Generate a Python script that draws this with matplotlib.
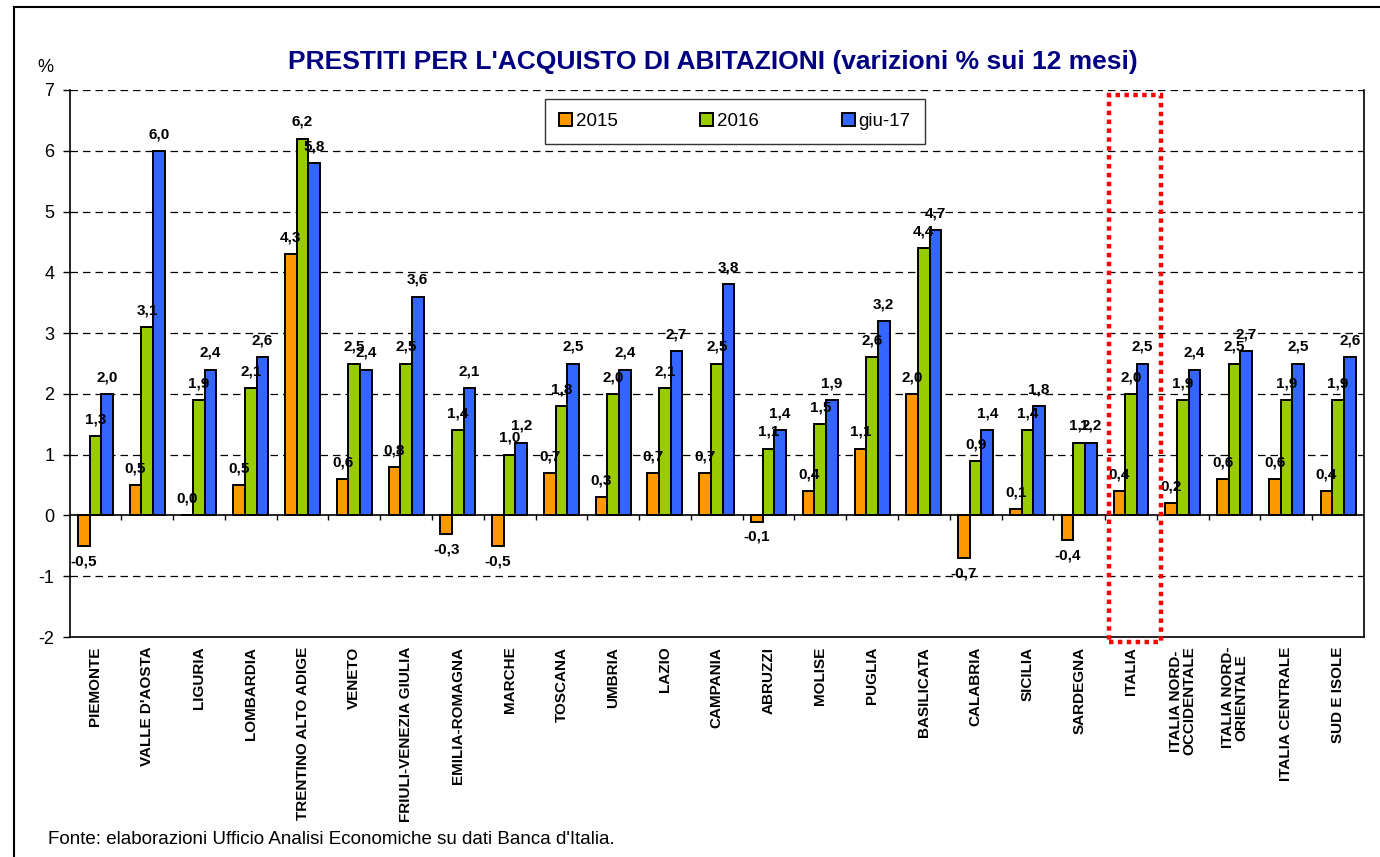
import matplotlib
matplotlib.use("Agg")
import matplotlib.pyplot as plt
import numpy as np
from matplotlib.patches import Rectangle
from matplotlib.lines import Line2D

plt.rcParams['font.family'] = ['Liberation Sans', 'DejaVu Sans']

categories = ["PIEMONTE", "VALLE D'AOSTA", "LIGURIA", "LOMBARDIA", "TRENTINO ALTO ADIGE",
              "VENETO", "FRIULI-VENEZIA GIULIA", "EMILIA-ROMAGNA", "MARCHE", "TOSCANA",
              "UMBRIA", "LAZIO", "CAMPANIA", "ABRUZZI", "MOLISE", "PUGLIA", "BASILICATA",
              "CALABRIA", "SICILIA", "SARDEGNA", "ITALIA", "ITALIA NORD-\nOCCIDENTALE",
              "ITALIA NORD-\nORIENTALE", "ITALIA CENTRALE", "SUD E ISOLE"]
series_names = ["2015", "2016", "giu-17"]
v2015 = [-0.5, 0.5, 0.0, 0.5, 4.3, 0.6, 0.8, -0.3, -0.5, 0.7, 0.3, 0.7, 0.7, -0.1, 0.4,
         1.1, 2.0, -0.7, 0.1, -0.4, 0.4, 0.2, 0.6, 0.6, 0.4]
v2016 = [1.3, 3.1, 1.9, 2.1, 6.2, 2.5, 2.5, 1.4, 1.0, 1.8, 2.0, 2.1, 2.5, 1.1, 1.5,
         2.6, 4.4, 0.9, 1.4, 1.2, 2.0, 1.9, 2.5, 1.9, 1.9]
vgiu17 = [2.0, 6.0, 2.4, 2.6, 5.8, 2.4, 3.6, 2.1, 1.2, 2.5, 2.4, 2.7, 3.8, 1.4, 1.9,
          3.2, 4.7, 1.4, 1.8, 1.2, 2.5, 2.4, 2.7, 2.5, 2.6]
yticks = list(range(-2, 8))
highlight = "ITALIA"

colors = ["#FF9900", "#99CC00", "#3366FF"]

fig = plt.figure(figsize=(13.8, 8.57), dpi=100)
W, H = 1380, 857
ax = fig.add_axes([69.5 / W, 1 - 637 / H, (1364 - 69.5) / W, (637 - 90) / H])

x = np.arange(len(categories))
bw = 0.225
data = [v2015, v2016, vgiu17]
for k, (vals, c, name) in enumerate(zip(data, colors, series_names)):
    xs = x + (k - 1) * bw
    ax.bar(xs, vals, width=bw, color=c, edgecolor="black", linewidth=1.4,
           label=name, zorder=3)
    for xi, v in zip(xs, vals):
        lab = f"{v:.1f}".replace(".", ",")
        if v < 0:
            ax.annotate(lab, (xi, v), xytext=(0, -6), textcoords="offset points",
                        ha="center", va="top", fontsize=11, fontweight="bold", zorder=5)
        else:
            ax.annotate(lab, (xi, v), xytext=(0, 7), textcoords="offset points",
                        ha="center", va="bottom", fontsize=11, fontweight="bold", zorder=5)

ax.set_xlim(-0.5, len(categories) - 0.5)
ax.set_ylim(-2, 7)
ax.set_yticks(yticks)
ax.set_yticklabels([str(t) for t in yticks], fontsize=13)
ax.tick_params(axis="y", direction="out", length=5, width=1, pad=6)
for t in yticks:
    if t not in (-2, 0):
        ax.axhline(t, color="black", linestyle=(0, (6, 4)), linewidth=0.9, zorder=1)
ax.axhline(0, color="black", linewidth=1.2, zorder=4)
# category separator ticks on the zero line
bounds = np.arange(len(categories) + 1) - 0.5
ax.vlines(bounds[1:-1], -0.08, 0, color="black", linewidth=1.0, zorder=4)

ax.set_xticks(x)
ax.set_xticklabels(categories, rotation=90, fontsize=11, fontweight="bold",
                   va="top", ha="center", linespacing=1.0)
ax.tick_params(axis="x", length=0, pad=7)
ax.spines["top"].set_visible(False)
for s in ("left", "right", "bottom"):
    ax.spines[s].set_linewidth(1.2)

# highlight rectangle around ITALIA
hi = categories.index(highlight)
rect = Rectangle((hi - 0.42, -2.09), 0.99, 9.01, fill=False, edgecolor="red",
                 linewidth=3.2, linestyle=(0, (1, 1)), clip_on=False, zorder=6)
ax.add_patch(rect)

leg = ax.legend(loc="upper center", bbox_to_anchor=(0.514, 0.984), ncol=3,
                fontsize=13.5, frameon=True, fancybox=False, edgecolor="black",
                handlelength=0.7, handleheight=0.7, handletextpad=0.2,
                columnspacing=4.4, borderpad=0.75, borderaxespad=0)
leg.get_frame().set_linewidth(1.0)

fig.text(713 / W, 1 - 62 / H,
         "PRESTITI PER L'ACQUISTO DI ABITAZIONI (varizioni % sui 12 mesi)",
         ha="center", va="center", fontsize=19, fontweight="bold", color="#000080")
fig.text(45 / W, 1 - 67 / H, "%", ha="center", va="center", fontsize=13)
fig.text(48 / W, 1 - 840 / H,
         "Fonte: elaborazioni Ufficio Analisi Economiche su dati Banca d'Italia.",
         ha="left", va="center", fontsize=13.5)

# outer frame (left and top edges)
fig.add_artist(Line2D([14 / W, 14 / W], [0, 1 - 7 / H], color="black", linewidth=1.5,
                      transform=fig.transFigure))
fig.add_artist(Line2D([14 / W, 1], [1 - 7 / H, 1 - 7 / H], color="black", linewidth=1.5,
                      transform=fig.transFigure))

fig.savefig("out.png", dpi=100)
